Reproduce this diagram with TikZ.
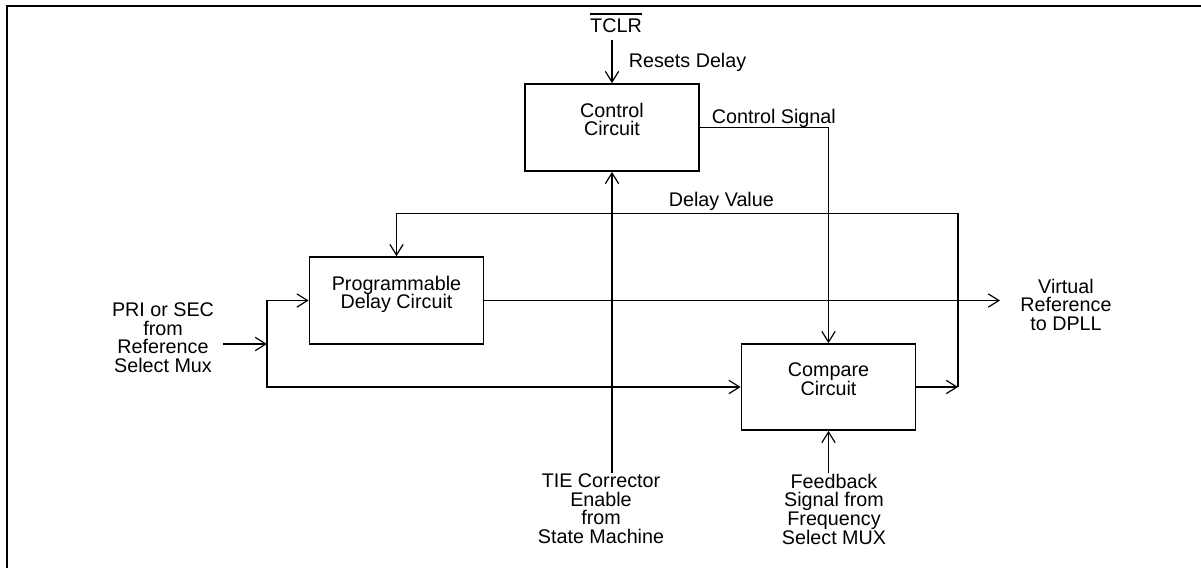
\documentclass[tikz,border=0pt]{standalone}
\usepackage{fontspec}
\setmainfont{Liberation Sans}
\usetikzlibrary{arrows.meta}
\begin{document}
\begin{tikzpicture}[x=0.75pt,y=-0.75pt,
  line width=1.3pt,
  arr/.style={-{Straight Barb[length=8pt,width=10pt,line width=0.9pt]}},
  blk/.style={draw,line width=1.3pt,inner sep=0pt,minimum width=130.5pt,minimum height=65.25pt},
  lbl/.style={inner sep=0pt,font=\fontsize{14.8}{14}\selectfont},
  mlbl/.style={lbl,align=center,anchor=north}]
\useasboundingbox (0,0) rectangle (1201,568);
% frame (top and left edges only)
\draw[line width=1.6pt] (7,568) -- (7,6) -- (1201,6);

% blocks
\node[blk] (ctrl) at (612,127.5) {};
\node[blk] (prog) at (396.5,300.5) {};
\node[blk,minimum height=64.5pt] (cmp) at (828.5,387) {};

% block texts
\node[mlbl] (ctrlT) at (612,102) {Control\\Circuit};
\node[mlbl] (progT) at (396.5,275) {Programmable\\Delay Circuit};
\node[mlbl] (cmpT) at (828.5,362) {Compare\\Circuit};

% signal labels
\node[mlbl] (vref) at (1066,278) {Virtual\\Reference\\to DPLL};
\node[mlbl] (pri) at (163,302) {PRI or SEC\\from\\Reference\\Select Mux};
\node[mlbl] (tie) at (601,473) {TIE Corrector\\Enable\\from\\State Machine};
\node[mlbl] (fb) at (834,473) {Feedback\\Signal from\\Frequency\\Select MUX};
\node[lbl,anchor=base] (tclr) at (616,32) {\vbox{\hrule height 1.2pt\kern 2.5pt\hbox{TCLR}}};
\node[lbl,anchor=base west] (rst) at (628,67) {Resets Delay};
\node[lbl,anchor=base west] (csig) at (711,123) {Control Signal};
\node[lbl,anchor=base west] (dval) at (668,206) {Delay Value};

% free ends and junctions
\coordinate (tclrEnd) at (612,40);
\coordinate (vout) at (1000,300.5);
\coordinate (in) at (223,344);
\coordinate (split) at (267,344);
\coordinate (cmpOut) at (958,387);
\coordinate (dvCorner) at (958,213.5);

% connectors
\draw[arr] (tclrEnd) -- (ctrl.north);
\draw[arr] (ctrl.east) -| (cmp.north);
\draw[arr] (ctrl.south |- tie.north) -- (ctrl.south);
\draw[arr] (cmp.south |- fb.north) -- (cmp.south);
\draw[arr] (prog.east) -- (vout);
\draw[arr] (in) -- (split);
\draw[arr] (split) |- (prog.west);
\draw[arr] (split) |- (cmp.west);
\draw[arr] (cmp.east) -- (cmpOut);
\draw[arr] (cmpOut) -- (dvCorner) -| (prog.north);
\end{tikzpicture}
\end{document}
